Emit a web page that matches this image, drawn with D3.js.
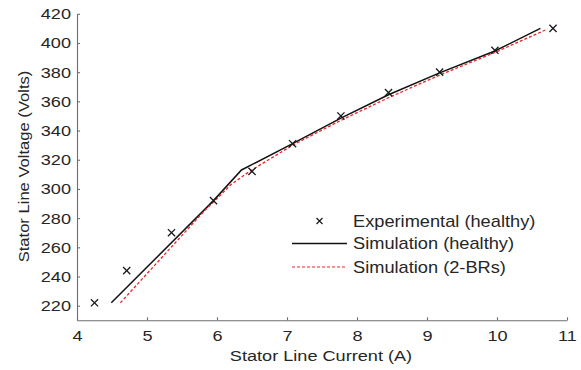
<!DOCTYPE html>
<html><head><meta charset="utf-8">
<script src="https://cdn.jsdelivr.net/npm/d3@7"></script>
<style>html,body{margin:0;padding:0;background:#fff;}svg{display:block;}</style>
</head><body>
<script>
const expX = [4.25, 4.71, 5.35, 5.95, 6.5, 7.08, 7.77, 8.45, 9.18, 9.97, 10.8];
const expY = [222, 244, 270, 292, 312, 331, 350, 366, 380, 395, 410];
const simHX = [4.49, 5.95, 6.35, 7.08, 7.77, 8.45, 9.18, 9.97, 10.62];
const simHY = [222, 292, 313, 331, 348.5, 364.5, 379.5, 394.5, 410];
const sim2X = [4.62, 5.83, 5.95, 6.2, 6.45, 6.6, 7.08, 7.77, 8.45, 9.18, 9.97, 10.72];
const sim2Y = [222, 285.5, 291, 303, 311.5, 316, 330, 347, 362.5, 378, 393.5, 409.5];
const xTicks = [4, 5, 6, 7, 8, 9, 10, 11];
const yTicks = [220, 240, 260, 280, 300, 320, 340, 360, 380, 400, 420];
const legendLabels = ["Experimental (healthy)", "Simulation (healthy)", "Simulation (2-BRs)"];
const xTitle = "Stator Line Current (A)";
const yTitle = "Stator Line Voltage (Volts)";

const W = 581, H = 370;
const FONT = "'Liberation Sans', Arial, sans-serif";
const FS = 15.5, SX = 1.17;
const svg = d3.select("body").append("svg").attr("width", W).attr("height", H);
const x = d3.scaleLinear().domain([4, 11]).range([77, 567]);
const y = d3.scaleLinear().domain([210, 420]).range([320.3, 13.8]);

function stretch(sel, sx) {
  sel.each(function() {
    const t = d3.select(this);
    const ax = +t.attr("x") || 0;
    t.attr("transform", `translate(${ax},0) scale(${sx},1) translate(${-ax},0)`);
  });
}

// axes
const ax = svg.append("g").attr("transform", `translate(0,${y(210)})`)
  .call(d3.axisBottom(x).tickValues(xTicks).tickFormat(d3.format("d")).tickSizeInner(-3).tickSizeOuter(0).tickPadding(10));
const ay = svg.append("g").attr("transform", `translate(${x(4)},0)`)
  .call(d3.axisLeft(y).tickValues(yTicks).tickFormat(d3.format("d")).tickSizeInner(-3).tickSizeOuter(0).tickPadding(6));
[ax, ay].forEach(g => {
  g.select(".domain").attr("stroke", "#6e6e6e").attr("stroke-width", 1.1);
  g.selectAll(".tick line").attr("stroke", "#6e6e6e").attr("stroke-width", 1.1);
  g.selectAll(".tick text").attr("fill", "#262626").style("font-family", FONT).style("font-size", FS + "px");
  stretch(g.selectAll(".tick text"), SX);
});

// axis titles
const xt = svg.append("text").attr("x", 321).attr("y", 361.5).attr("text-anchor", "middle")
  .style("font-family", FONT).style("font-size", FS + "px").attr("fill", "#262626").text(xTitle);
stretch(xt, SX);
svg.append("text").attr("transform", `translate(29,166.5) rotate(-90) scale(1.07,1)`).attr("text-anchor", "middle")
  .style("font-family", FONT).style("font-size", FS + "px").attr("fill", "#262626").text(yTitle);

// lines
const lineH = d3.line().x((d, i) => x(simHX[i])).y((d, i) => y(simHY[i]));
const line2 = d3.line().x((d, i) => x(sim2X[i])).y((d, i) => y(sim2Y[i]));
svg.append("path").attr("d", lineH(simHX)).attr("fill", "none").attr("stroke", "#111").attr("stroke-width", 1.5);
svg.append("path").attr("d", line2(sim2X)).attr("fill", "none").attr("stroke", "#e8262b").attr("stroke-width", 1.3).attr("stroke-dasharray", "3,2");

// markers
const ms = 3.6;
const mk = svg.append("g");
expX.forEach((v, i) => {
  const cx = x(v), cy = y(expY[i]);
  mk.append("path").attr("d", `M${cx-ms},${cy-ms}L${cx+ms},${cy+ms}M${cx-ms},${cy+ms}L${cx+ms},${cy-ms}`)
    .attr("stroke", "#1a1a1a").attr("stroke-width", 1.3).attr("fill", "none");
});

// legend
const lg = svg.append("g");
const lx0 = 292, lx1 = 347, tx = 353;
const ly = [221, 243.5, 267];
lg.append("path").attr("d", `M${319.5-3},${ly[0]-3}L${319.5+3},${ly[0]+3}M${319.5-3},${ly[0]+3}L${319.5+3},${ly[0]-3}`)
  .attr("stroke", "#1a1a1a").attr("stroke-width", 1.2);
lg.append("line").attr("x1", lx0).attr("x2", lx1).attr("y1", ly[1]).attr("y2", ly[1]).attr("stroke", "#111").attr("stroke-width", 1.4);
lg.append("line").attr("x1", lx0).attr("x2", lx1).attr("y1", ly[2]).attr("y2", ly[2]).attr("stroke", "#e8262b").attr("stroke-width", 1.1).attr("stroke-dasharray", "3,2");
legendLabels.forEach((s, i) => {
  const t = lg.append("text").attr("x", tx).attr("y", ly[i]).attr("dy", "0.36em")
    .style("font-family", FONT).style("font-size", "16px").attr("fill", "#262626").text(s);
  stretch(t, 1.14);
});
</script>
</body></html>
